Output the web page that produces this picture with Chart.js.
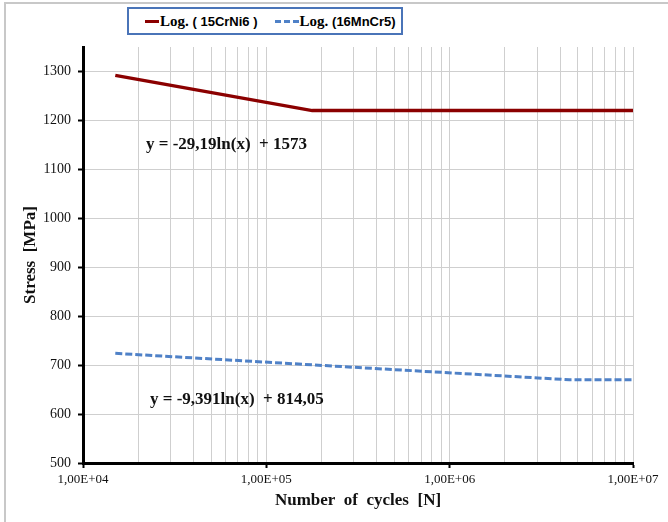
<!DOCTYPE html>
<html>
<head>
<meta charset="utf-8">
<script src="https://cdn.jsdelivr.net/npm/chart.js@4"></script>
<style>
  html, body { margin: 0; padding: 0; background: #fff; }
  #wrap { position: relative; width: 668px; height: 522px; overflow: hidden; }
  #frame { position: absolute; left: 4px; top: 2px; width: 680px; height: 540px; border-left: 2px solid #c8c8c8; border-top: 2px solid #c8c8c8; }
  #legend { position: absolute; left: 127px; top: 7px; width: 256px; height: 24px; padding-left: 16px; border: 2px solid #4a74b8; background: #fff;
            font: bold 15px "Liberation Serif", serif; display: flex; align-items: center; gap: 17px; }
  #legend .s { font-family: "Liberation Sans", Arial, sans-serif; font-size: 13px; }
  #legend .item { display: flex; align-items: center; white-space: nowrap; }
  #legend .sw { display: inline-block; height: 0; margin-right: 1px; }
</style>
</head>
<body>
<div id="wrap">
  <canvas id="c" width="668" height="522"></canvas>
  <div id="frame"></div>
  <div id="legend">
    <span class="item"><span class="sw" style="width:14px;border-top:3px solid #8b0000"></span>Log.&nbsp;<span class="s">( 15CrNi6 )</span></span>
    <span class="item"><span class="sw" style="width:24px;border-top:3px dashed #4f81c7"></span>Log.&nbsp;<span class="s">(16MnCr5)</span></span>
  </div>
</div>
<script>
// data
const crNiCycles = [15000, 178000, 10000000];
const crNiStress = [1292, 1220, 1220];
const mnCrCycles = [15000, 4500000, 10000000];
const mnCrStress = [724, 670, 670];
const yTicks = [500, 600, 700, 800, 900, 1000, 1100, 1200, 1300];
const decades = [1e4, 1e5, 1e6, 1e7];
const eqLabels = ['y = -29,19ln(x)  + 1573', 'y = -9,391ln(x)  + 814,05'];

// serif face for every canvas text (Times New Roman maps to Liberation Serif)
const SERIF = "'Times New Roman', 'Liberation Serif', Times, serif";

// all x gridlines: 1..9 per decade, labels only on the decades
const xTicks = [];
decades.forEach((d, i) => {
  if (i === decades.length - 1) { xTicks.push(d); return; }
  for (let k = 1; k <= 9; k++) xTicks.push(k * d);
});
const isMajor = v => decades.some(d => Math.abs(v - d) < 1e-6 * d);

const equations = {
  id: 'equations',
  afterDatasetsDraw(chart) {
    const ctx = chart.ctx;
    ctx.save();
    ctx.font = 'bold 17px ' + SERIF;
    ctx.fillStyle = '#111';
    ctx.textBaseline = 'middle';
    ctx.fillText(eqLabels[0], 146, 145);
    ctx.fillText(eqLabels[1], 150, 400);
    ctx.restore();
  }
};

Chart.defaults.font.family = SERIF;

new Chart(document.getElementById('c'), {
  type: 'line',
  data: {
    datasets: [{
      label: 'Log. ( 15CrNi6 )',
      data: crNiCycles.map((x, i) => ({ x, y: crNiStress[i] })),
      borderColor: '#8b0000',
      borderWidth: 3.5,
      pointRadius: 0,
      tension: 0
    }, {
      label: 'Log. (16MnCr5)',
      data: mnCrCycles.map((x, i) => ({ x, y: mnCrStress[i] })),
      borderColor: '#4f81c7',
      borderWidth: 3,
      borderDash: [7, 3],
      pointRadius: 0,
      tension: 0
    }]
  },
  options: {
    responsive: false,
    animation: false,
    layout: { padding: { top: 47, right: 35, left: 0, bottom: 0 } },
    plugins: { legend: { display: false }, tooltip: { enabled: false } },
    scales: {
      x: {
        type: 'logarithmic',
        min: 1e4, max: 1e7,
        afterBuildTicks: s => { s.ticks = xTicks.map(v => ({ value: v })); },
        afterFit: s => { s.height = 59; },
        grid: {
          color: '#cfcfcf',
          lineWidth: 1,
          tickLength: 5,
          tickColor: c => isMajor(c.tick.value) ? '#000' : 'rgba(0,0,0,0)',
          tickWidth: 2
        },
        border: { color: '#000', width: 3 },
        ticks: {
          autoSkip: false, maxRotation: 0, padding: 4,
          color: '#111',
          font: { family: SERIF, size: 13, style: 'normal', weight: 'normal' },
          major: { enabled: false },
          callback: v => isMajor(v) ? '1,00E+0' + Math.round(Math.log10(v)) : ''
        },
        title: {
          display: true,
          text: 'Number  of  cycles  [N]',
          color: '#111',
          font: { family: SERIF, size: 17, weight: 'bold' },
          padding: { top: 0, bottom: 11 }
        }
      },
      y: {
        min: 500, max: 1350,
        afterBuildTicks: s => { s.ticks = yTicks.map(v => ({ value: v })); },
        afterFit: s => { s.width = 83; },
        grid: { color: '#cfcfcf', lineWidth: 1, tickLength: 5, tickColor: '#000', tickWidth: 2 },
        border: { color: '#000', width: 3 },
        ticks: {
          padding: 7, color: '#111',
          font: { family: SERIF, size: 14, style: 'normal', weight: 'normal' },
          callback: v => String(v)
        },
        title: {
          display: true,
          text: 'Stress  [MPa]',
          color: '#111',
          font: { family: SERIF, size: 17, weight: 'bold' },
          padding: { top: 20, bottom: 0 }
        }
      }
    }
  },
  plugins: [equations]
});
</script>
</body>
</html>
